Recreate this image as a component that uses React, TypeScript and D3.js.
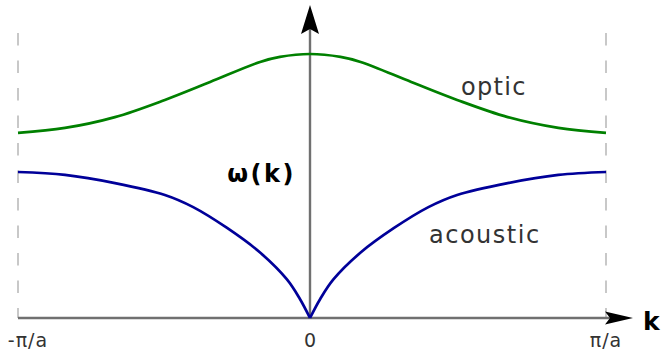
import React from "react";
import * as d3 from "d3";

// Wave number as a fraction of π/a (right half; the left half mirrors it)
const opticK = [0, 0.103, 0.171, 0.342, 0.497, 0.668, 0.839, 1];
// Optical branch, ω normalised to its zone-centre maximum
const opticOmega = [1.0, 0.989, 0.97, 0.894, 0.826, 0.761, 0.72, 0.701];

const acousticK = [0, 0.035, 0.079, 0.171, 0.284, 0.4, 0.497, 0.668, 0.839, 1];
// Acoustic branch, same normalisation
const acousticOmega = [0, 0.073, 0.146, 0.248, 0.341, 0.42, 0.466, 0.511, 0.542, 0.553];

const kTickLabels = ["-π/a", "0", "π/a"];
const kTickValues = [-1, 0, 1];
const branchLabels = ["optic", "acoustic"];

const W = 662;
const H = 358;

export default function App() {
  const x = d3.scaleLinear().domain([-1, 0, 1]).range([18, 310, 606]);
  const y = d3.scaleLinear().domain([0, 1]).range([318, 54]);

  const line = d3
    .line<[number, number]>()
    .x((d) => x(d[0]))
    .y((d) => y(d[1]))
    .curve(d3.curveCatmullRom.alpha(0.5));

  const right = (ks: number[], vals: number[]) =>
    ks.map((k, i) => [k, vals[i]] as [number, number]);
  const left = (ks: number[], vals: number[]) =>
    ks.map((k, i) => [-k, vals[i]] as [number, number]).reverse();

  const opticPts = [...left(opticK, opticOmega), ...right(opticK, opticOmega).slice(1)];
  const acousticLeft = left(acousticK, acousticOmega);
  const acousticRight = right(acousticK, acousticOmega);

  const x0 = x(0);
  const y0 = y(0);
  const vTip = y(1) - 49;
  const hTip = x(1) + 27;

  const grey = "#333333";
  const font = "'DejaVu Sans', sans-serif";

  return (
    <svg
      width={W}
      height={H}
      style={{ position: "absolute", left: 0, top: 0, background: "#fff" }}
    >
      {/* zone boundaries */}
      {[-1, 1].map((k) => (
        <line
          key={k}
          x1={x(k)}
          x2={x(k)}
          y1={vTip + 28}
          y2={y0}
          stroke="#c8c8c8"
          strokeWidth={2}
          strokeDasharray="12.5 15"
        />
      ))}

      {/* axes */}
      <line x1={x(-1)} x2={hTip - 22} y1={y0} y2={y0} stroke="#707070" strokeWidth={2.4} />
      <line x1={x0} x2={x0} y1={y0} y2={vTip + 22} stroke="#707070" strokeWidth={2.4} />
      <path
        d={`M${x0},${vTip} L${x0 + 9},${vTip + 29} L${x0},${vTip + 24} L${x0 - 9},${vTip + 29} Z`}
        fill="#000"
      />
      <path
        d={`M${hTip},${y0} L${hTip - 28},${y0 + 6.5} L${hTip - 23},${y0} L${hTip - 28},${y0 - 6.5} Z`}
        fill="#000"
      />

      {/* dispersion branches */}
      <path d={line(opticPts) ?? ""} fill="none" stroke="#008000" strokeWidth={2.7} />
      <path d={line(acousticLeft) ?? ""} fill="none" stroke="#000099" strokeWidth={2.7} />
      <path d={line(acousticRight) ?? ""} fill="none" stroke="#000099" strokeWidth={2.7} />

      {/* tick labels */}
      {kTickValues.map((k, i) => (
        <text
          key={k}
          x={x(k) + (i === 0 ? 10 : 0)}
          y={347}
          textAnchor="middle"
          fontFamily={font}
          fontSize={19}
          fill={grey}
          letterSpacing={i === 1 ? 0 : 1}
        >
          {kTickLabels[i]}
        </text>
      ))}

      <text x={hTip + 10} y={330} fontFamily={font} fontSize={25} fontWeight="bold" fill="#000">
        k
      </text>
      <text
        x={x0 - 14}
        y={182}
        textAnchor="end"
        fontFamily={font}
        fontSize={24}
        fontWeight="bold"
        fill="#000"
        letterSpacing={2.5}
      >
        ω(k)
      </text>

      <text x={461} y={95} fontFamily={font} fontSize={24} fill={grey} letterSpacing={1.3}>
        {branchLabels[0]}
      </text>
      <text x={429} y={243} fontFamily={font} fontSize={24} fill={grey} letterSpacing={1.5}>
        {branchLabels[1]}
      </text>
    </svg>
  );
}
